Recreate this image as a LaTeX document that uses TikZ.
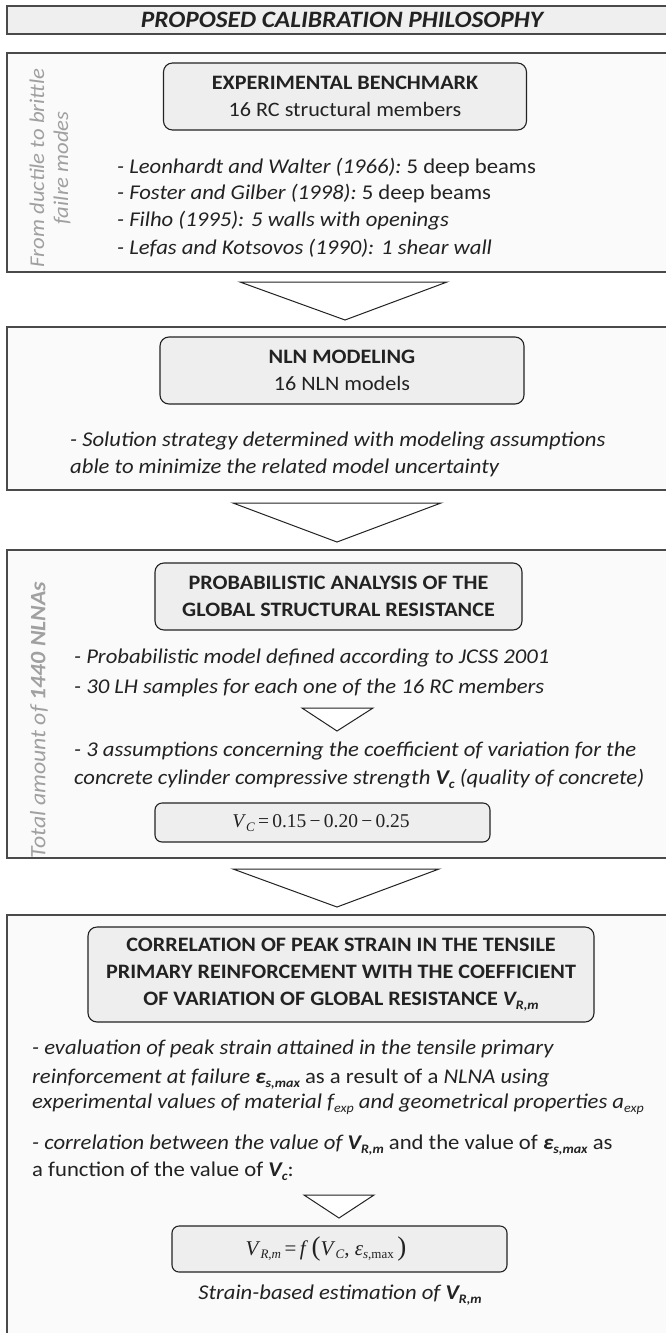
\documentclass[tikz,border=0pt]{standalone}
\usepackage{fontspec}
\setmainfont{Carlito}[FakeStretch=1.08]
\newfontfamily\tms{Liberation Serif}
\usetikzlibrary{calc}
\definecolor{ink}{HTML}{222222}
\definecolor{edge}{HTML}{4A4A4A}
\definecolor{boxfill}{HTML}{FAFAFA}
\definecolor{titlefill}{HTML}{EFEFEF}
\definecolor{headfill}{HTML}{EEEEEE}
\definecolor{sidegray}{HTML}{A0A0A0}
\newcommand\bodyfont{\fontsize{21}{27}\selectfont}
\newcommand\headfont{\fontsize{20.5}{27}\selectfont}
\newcommand\sbs[1]{\raisebox{-0.35ex}{\fontsize{13}{13}\selectfont #1}}
\newcommand\bivar[2]{\textbf{\textit{#1\sbs{#2}}}}
\begin{document}
\begin{tikzpicture}[x=1pt,y=-1pt,
  outerbox/.style={draw=edge, line width=1.8pt, fill=boxfill},
  titlebox/.style={draw=edge, line width=1.8pt, fill=titlefill},
  headbox/.style={draw=ink, line width=1.1pt, fill=headfill, rounded corners=9pt, align=center, inner sep=0pt, font=\headfont\bfseries, text=ink},
  fbox/.style={draw=ink, line width=1.1pt, fill=headfill, rounded corners=7pt, inner sep=0pt, text=ink},
  ftext/.style={inner sep=0pt, text=ink},
  body/.style={anchor=base west, inner sep=0pt, font=\bodyfont\itshape, text=ink},
  side/.style={rotate=90, align=center, inner sep=0pt, text=sidegray, font=\fontsize{21}{24}\selectfont\itshape},
  tri/.style={draw=ink, line width=1pt, fill=white, line join=miter}
]
\useasboundingbox (0,0) rectangle (665,1333);
\fill[white] (0,0) rectangle (665,1333);

% title
\node[titlebox, minimum width=694pt, minimum height=28pt, anchor=north west, inner sep=0pt] (title) at (6,5) {};
\node[inner sep=0pt, text=ink, font=\fontsize{23.5}{24}\selectfont\bfseries\itshape] (titletext) at (342,19.5) {PROPOSED CALIBRATION PHILOSOPHY};

% box 1
\node[outerbox, minimum width=694pt, minimum height=219pt, anchor=north west, inner sep=0pt] (b1) at (6,52) {};
\node[headbox, minimum width=363pt, minimum height=67pt] (h1) at (345,96.5) {EXPERIMENTAL BENCHMARK\\ \mdseries 16 RC structural members};
\node[side] (s1) at (50,168) {From ductile to brittle\\ failre modes};
\node[body] (l11) at (117,173.5) {- Leonhardt and Walter (1966):\upshape\ 5 deep beams};
\node[body] (l12) at (117,199.5) {- Foster and Gilber (1998):\upshape\ 5 deep beams};
\node[body] (l13) at (117,226.5) {- Filho (1995): 5 walls with openings};
\node[body] (l14) at (117,254.5) {- Lefas and Kotsovos (1990): 1 shear wall};

% triangle 1
\coordinate (t1a) at (240,282); \coordinate (t1b) at (447,282); \coordinate (t1c) at (345,320);
\draw[tri] (t1a) -- (t1b) -- (t1c) -- cycle;

% box 2
\node[outerbox, minimum width=694pt, minimum height=163pt, anchor=north west, inner sep=0pt] (b2) at (6,326) {};
\node[headbox, minimum width=364pt, minimum height=67pt] (h2) at (342,370.5) {NLN MODELING\\ \mdseries 16 NLN models};
\node[body] (l21) at (70,446.5) {- Solution strategy determined with modeling assumptions};
\node[body] (l22) at (70,473.5) {able to minimize the related model uncertainty};

% triangle 2
\coordinate (t2a) at (233,503); \coordinate (t2b) at (441,503); \coordinate (t2c) at (337,542);
\draw[tri] (t2a) -- (t2b) -- (t2c) -- cycle;

% box 3
\node[outerbox, minimum width=694pt, minimum height=308pt, anchor=north west, inner sep=0pt] (b3) at (6,549) {};
\node[headbox, minimum width=367pt, minimum height=67pt] (h3) at (338.5,596.5) {PROBABILISTIC ANALYSIS OF THE\\ GLOBAL STRUCTURAL RESISTANCE};
\node[side, font=\fontsize{22}{24}\selectfont\itshape] (s3) at (39,720) {Total amount of \textbf{1440 NLNAs}};
\node[body] (l31) at (74,663.5) {- Probabilistic model defined according to JCSS 2001};
\node[body] (l32) at (74,693.5) {- 30 LH samples for each one of the 16 RC members};
\coordinate (t3a) at (302,708); \coordinate (t3b) at (373,708); \coordinate (t3c) at (337,731);
\draw[tri] (t3a) -- (t3b) -- (t3c) -- cycle;
\node[body] (l33) at (74,756.5) {- 3 assumptions concerning the coefficient of variation for the};
\node[body] (l34) at (74,784.5) {concrete cylinder compressive strength \bivar{V}{c} (quality of concrete)};
\node[fbox, minimum width=335pt, minimum height=39pt] (f1) at (322.5,822.5) {};
\node[ftext] (f1t) at (321,823) {\tms\fontsize{19.5}{19}\selectfont\textit{V}\sbs{\textit{C}}\,=\,0.15\,−\,0.20\,−\,0.25};

% triangle 3
\coordinate (t4a) at (233,869); \coordinate (t4b) at (439,869); \coordinate (t4c) at (337,907);
\draw[tri] (t4a) -- (t4b) -- (t4c) -- cycle;

% box 4
\node[outerbox, minimum width=694pt, minimum height=486pt, anchor=north west, inner sep=0pt] (b4) at (6,914) {};
\node[headbox, minimum width=506pt, minimum height=95pt] (h4) at (341,974.5) {CORRELATION OF PEAK STRAIN IN THE TENSILE\\ PRIMARY REINFORCEMENT WITH THE COEFFICIENT\\ OF VARIATION OF GLOBAL RESISTANCE \textit{V\sbs{R,m}}};
\node[body] (l41) at (32,1054.5) {- evaluation of peak strain attained in the tensile primary};
\node[body] (l42) at (32,1083.5) {reinforcement at failure \bivar{ε}{s,max} \upshape as a result of a \itshape NLNA using};
\node[body] (l43) at (32,1108.5) {experimental values of material \textit{f\sbs{exp}} and geometrical properties \textit{a\sbs{exp}}};
\node[body] (l44) at (32,1149.5) {- correlation between the value of \bivar{V}{R,m} \upshape and the value of \bivar{ε}{s,max} as};
\node[body, font=\bodyfont\upshape] (l45) at (32,1176.5) {a function of the value of \bivar{V}{c}:};
\coordinate (t5a) at (304,1195); \coordinate (t5b) at (374,1195); \coordinate (t5c) at (339,1218);
\draw[tri] (t5a) -- (t5b) -- (t5c) -- cycle;
\node[fbox, minimum width=335pt, minimum height=46pt] (f2) at (339.5,1249) {};
\node[ftext] (f2t) at (326,1249) {\tms\fontsize{21}{21}\selectfont\textit{V}\sbs{\textit{R,m}}\,=\,\textit{f}\,{\fontsize{27}{27}\selectfont(}\textit{V}\sbs{\textit{C}}, \textit{ε}\sbs{\textit{s},max}\,{\fontsize{27}{27}\selectfont)}};
\node[body, anchor=base] (l46) at (340,1299.5) {Strain-based estimation of \bivar{V}{R,m}};
\end{tikzpicture}
\end{document}
